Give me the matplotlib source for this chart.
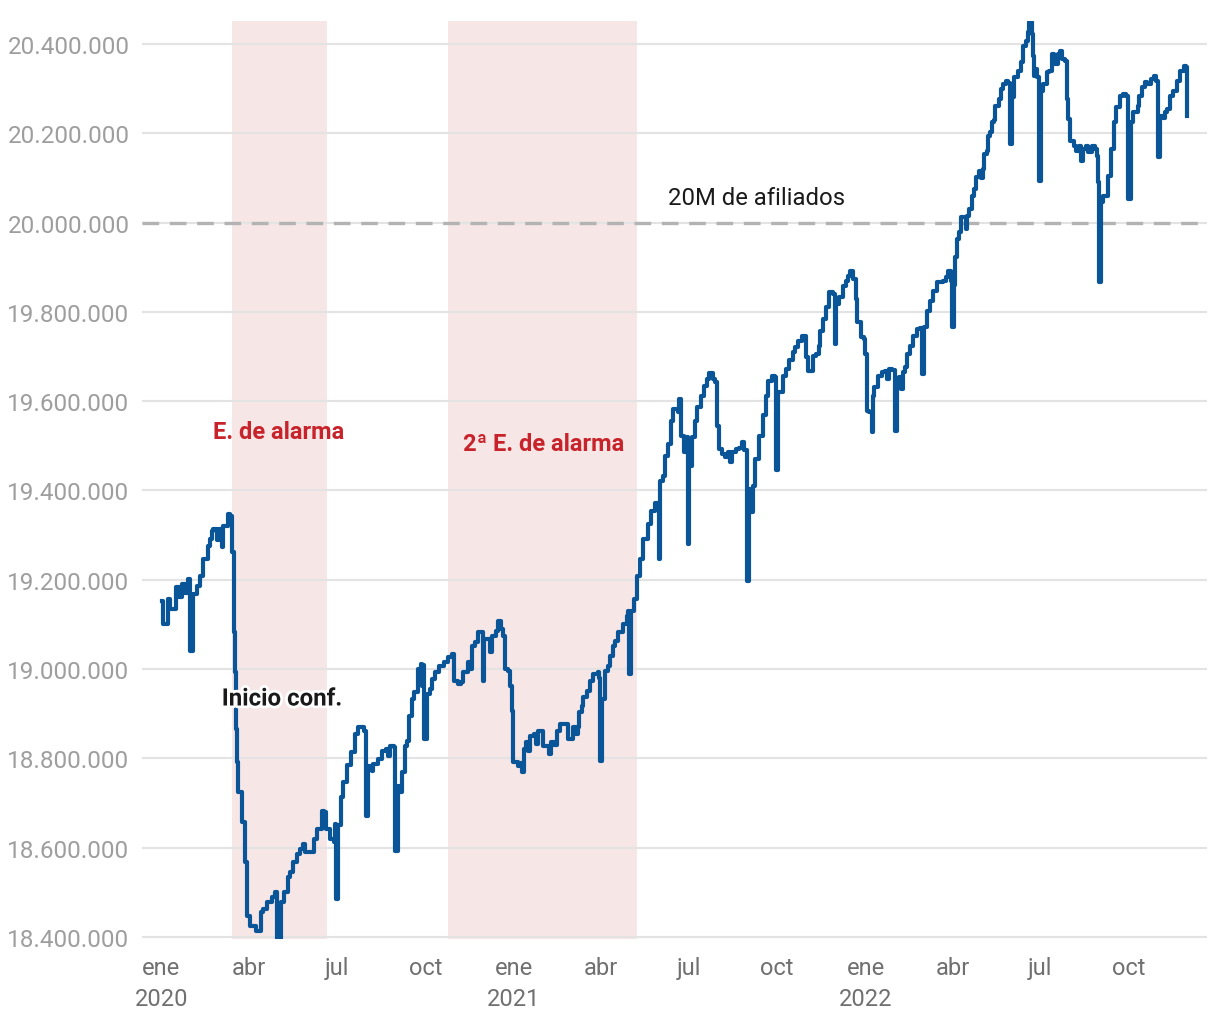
import matplotlib
matplotlib.use("Agg")
import matplotlib.pyplot as plt
import matplotlib.dates as mdates
import matplotlib.ticker as mticker
import matplotlib.patheffects as pe
import numpy as np
import pandas as pd

plt.rcParams['font.family'] = ['Roboto', 'DejaVu Sans']

# afiliados a la Seguridad Social (miles)
fechas = [
    "2020-01-02", "2020-01-03", "2020-01-08", "2020-01-10", "2020-01-16", "2020-01-19", "2020-01-23",
    "2020-01-26", "2020-01-29", "2020-01-31", "2020-02-03", "2020-02-07", "2020-02-10", "2020-02-13",
    "2020-02-18", "2020-02-21", "2020-02-23", "2020-02-24", "2020-02-28", "2020-03-01", "2020-03-04",
    "2020-03-05", "2020-03-10", "2020-03-12", "2020-03-14", "2020-03-16", "2020-03-18", "2020-03-19",
    "2020-03-20", "2020-03-21", "2020-03-25", "2020-03-28", "2020-03-30", "2020-04-02", "2020-04-08",
    "2020-04-11", "2020-04-13", "2020-04-16", "2020-04-20", "2020-04-25", "2020-04-28", "2020-04-30",
    "2020-05-04", "2020-05-07", "2020-05-11", "2020-05-14", "2020-05-17", "2020-05-21", "2020-05-24",
    "2020-05-27", "2020-05-29", "2020-06-04", "2020-06-07", "2020-06-11", "2020-06-14", "2020-06-16",
    "2020-06-18", "2020-06-20", "2020-06-24", "2020-06-28", "2020-06-29", "2020-06-30", "2020-07-02",
    "2020-07-05", "2020-07-08", "2020-07-12", "2020-07-16", "2020-07-20", "2020-07-23", "2020-07-29",
    "2020-07-31", "2020-08-03", "2020-08-07", "2020-08-08", "2020-08-13", "2020-08-17", "2020-08-21",
    "2020-08-23", "2020-08-25", "2020-08-29", "2020-08-31", "2020-09-03", "2020-09-05", "2020-09-07",
    "2020-09-10", "2020-09-12", "2020-09-14", "2020-09-17", "2020-09-19", "2020-09-23", "2020-09-26",
    "2020-09-28", "2020-09-29", "2020-09-30", "2020-10-03", "2020-10-06", "2020-10-08", "2020-10-11",
    "2020-10-15", "2020-10-20", "2020-10-25", "2020-10-29", "2020-10-31", "2020-11-04", "2020-11-07",
    "2020-11-09", "2020-11-14", "2020-11-16", "2020-11-18", "2020-11-21", "2020-11-25", "2020-11-27",
    "2020-11-30", "2020-12-01", "2020-12-05", "2020-12-07", "2020-12-09", "2020-12-13", "2020-12-15",
    "2020-12-19", "2020-12-21", "2020-12-23", "2020-12-26", "2020-12-28", "2020-12-30", "2020-12-31",
    "2021-01-05", "2021-01-06", "2021-01-09", "2021-01-11", "2021-01-13", "2021-01-16", "2021-01-18",
    "2021-01-22", "2021-01-24", "2021-01-26", "2021-01-29", "2021-01-31", "2021-02-03", "2021-02-06",
    "2021-02-08", "2021-02-11", "2021-02-15", "2021-02-18", "2021-02-23", "2021-02-26", "2021-03-01",
    "2021-03-03", "2021-03-06", "2021-03-08", "2021-03-09", "2021-03-13", "2021-03-14", "2021-03-18",
    "2021-03-21", "2021-03-24", "2021-03-29", "2021-03-30", "2021-03-31", "2021-04-02", "2021-04-05",
    "2021-04-09", "2021-04-11", "2021-04-14", "2021-04-16", "2021-04-19", "2021-04-24", "2021-04-28",
    "2021-04-29", "2021-04-30", "2021-05-02", "2021-05-05", "2021-05-09", "2021-05-12", "2021-05-15",
    "2021-05-20", "2021-05-23", "2021-05-27", "2021-05-31", "2021-06-01", "2021-06-05", "2021-06-07",
    "2021-06-10", "2021-06-13", "2021-06-15", "2021-06-20", "2021-06-21", "2021-06-23", "2021-06-26",
    "2021-06-28", "2021-06-30", "2021-07-02", "2021-07-05", "2021-07-08", "2021-07-10", "2021-07-14",
    "2021-07-17", "2021-07-20", "2021-07-22", "2021-07-26", "2021-07-29", "2021-07-31", "2021-08-02",
    "2021-08-05", "2021-08-08", "2021-08-11", "2021-08-13", "2021-08-15", "2021-08-19", "2021-08-22",
    "2021-08-26", "2021-08-28", "2021-08-31", "2021-09-02", "2021-09-04", "2021-09-06", "2021-09-08",
    "2021-09-12", "2021-09-16", "2021-09-19", "2021-09-22", "2021-09-26", "2021-09-29", "2021-09-30",
    "2021-10-02", "2021-10-07", "2021-10-10", "2021-10-13", "2021-10-17", "2021-10-20", "2021-10-23",
    "2021-10-27", "2021-10-31", "2021-11-02", "2021-11-05", "2021-11-07", "2021-11-10", "2021-11-13",
    "2021-11-14", "2021-11-18", "2021-11-21", "2021-11-24", "2021-11-28", "2021-11-30", "2021-12-01",
    "2021-12-04", "2021-12-08", "2021-12-11", "2021-12-13", "2021-12-16", "2021-12-19", "2021-12-22",
    "2021-12-23", "2021-12-27", "2021-12-30", "2021-12-31", "2022-01-02", "2022-01-04", "2022-01-07",
    "2022-01-08", "2022-01-10", "2022-01-14", "2022-01-18", "2022-01-21", "2022-01-23", "2022-01-25",
    "2022-01-28", "2022-01-31", "2022-02-02", "2022-02-04", "2022-02-06", "2022-02-09", "2022-02-11",
    "2022-02-13", "2022-02-16", "2022-02-19", "2022-02-23", "2022-02-26", "2022-02-28", "2022-03-02",
    "2022-03-06", "2022-03-09", "2022-03-12", "2022-03-16", "2022-03-22", "2022-03-25", "2022-03-27",
    "2022-03-30", "2022-03-31", "2022-04-02", "2022-04-04", "2022-04-06", "2022-04-08", "2022-04-10",
    "2022-04-13", "2022-04-15", "2022-04-16", "2022-04-18", "2022-04-21", "2022-04-23", "2022-04-25",
    "2022-04-28", "2022-04-30", "2022-05-03", "2022-05-04", "2022-05-07", "2022-05-08", "2022-05-10",
    "2022-05-12", "2022-05-14", "2022-05-15", "2022-05-19", "2022-05-21", "2022-05-23", "2022-05-26",
    "2022-05-29", "2022-05-31", "2022-06-02", "2022-06-04", "2022-06-08", "2022-06-11", "2022-06-13",
    "2022-06-16", "2022-06-18", "2022-06-19", "2022-06-22", "2022-06-23", "2022-06-24", "2022-06-26",
    "2022-06-28", "2022-06-30", "2022-07-02", "2022-07-04", "2022-07-08", "2022-07-10", "2022-07-13",
    "2022-07-15", "2022-07-16", "2022-07-19", "2022-07-21", "2022-07-24", "2022-07-27", "2022-07-29",
    "2022-07-30", "2022-08-01", "2022-08-05", "2022-08-07", "2022-08-10", "2022-08-12", "2022-08-14",
    "2022-08-17", "2022-08-20", "2022-08-24", "2022-08-27", "2022-08-29", "2022-08-30", "2022-08-31",
    "2022-09-02", "2022-09-04", "2022-09-09", "2022-09-12", "2022-09-15", "2022-09-18", "2022-09-22",
    "2022-09-25", "2022-09-28", "2022-09-30", "2022-10-03", "2022-10-05", "2022-10-10", "2022-10-11",
    "2022-10-15", "2022-10-18", "2022-10-20", "2022-10-24", "2022-10-27", "2022-10-29", "2022-10-31",
    "2022-11-02", "2022-11-05", "2022-11-07", "2022-11-10", "2022-11-13", "2022-11-16", "2022-11-20",
    "2022-11-23", "2022-11-27", "2022-11-29", "2022-11-30",
]
afiliados_miles = [
    19152, 19101, 19157, 19135, 19184, 19162, 19190,
    19170, 19202, 19040, 19168, 19186, 19208, 19247,
    19276, 19291, 19309, 19314, 19289, 19314, 19274,
    19320, 19347, 19343, 19262, 19083, 18994, 18866,
    18792, 18725, 18658, 18568, 18447, 18425, 18414,
    18414, 18456, 18463, 18478, 18490, 18501, 18395,
    18478, 18501, 18534, 18546, 18568, 18586, 18597,
    18608, 18590, 18590, 18620, 18642, 18642, 18682,
    18680, 18642, 18620, 18613, 18653, 18485, 18650,
    18714, 18747, 18785, 18814, 18855, 18870, 18861,
    18671, 18783, 18772, 18788, 18799, 18817, 18820,
    18806, 18828, 18826, 18593, 18738, 18725, 18770,
    18828, 18839, 18895, 18933, 18949, 19000, 19011,
    18962, 19010, 18844, 18944, 18955, 18978, 18994,
    19007, 19016, 19027, 19034, 18973, 18967, 18970,
    18994, 19016, 19000, 19052, 19061, 19083, 19083,
    18973, 19068, 19068, 19038, 19074, 19085, 19108,
    19090, 19074, 19000, 18996, 18962, 18906, 18792,
    18783, 18790, 18770, 18821, 18837, 18817, 18850,
    18855, 18832, 18861, 18861, 18828, 18828, 18810,
    18837, 18830, 18861, 18877, 18877, 18844, 18844,
    18870, 18855, 18870, 18904, 18918, 18938, 18951,
    18973, 18989, 18994, 18980, 18794, 18933, 18996,
    19007, 19029, 19052, 19063, 19083, 19101, 19119,
    19130, 18989, 19130, 19157, 19209, 19247, 19291,
    19325, 19354, 19372, 19247, 19421, 19432, 19477,
    19504, 19556, 19582, 19575, 19605, 19522, 19486,
    19520, 19280, 19455, 19520, 19556, 19587, 19612,
    19634, 19650, 19663, 19650, 19643, 19544, 19493,
    19482, 19475, 19486, 19464, 19486, 19493, 19495,
    19509, 19490, 19197, 19403, 19352, 19410, 19471,
    19522, 19570, 19612, 19645, 19656, 19654, 19445,
    19621, 19656, 19672, 19692, 19710, 19721, 19735,
    19746, 19699, 19668, 19668, 19701, 19705, 19724,
    19757, 19784, 19811, 19845, 19840, 19728, 19818,
    19833, 19858, 19869, 19880, 19892, 19874, 19829,
    19777, 19744, 19740, 19706, 19578, 19575, 19531,
    19612, 19632, 19656, 19665, 19668, 19650, 19673,
    19670, 19533, 19650, 19655, 19627, 19665, 19676,
    19706, 19724, 19746, 19762, 19764, 19661, 19766,
    19802, 19824, 19847, 19867, 19869, 19878, 19892,
    19870, 19766, 19860, 19923, 19963, 19979, 20012,
    20012, 19986, 20015, 20030, 20060, 20075, 20102,
    20116, 20100, 20120, 20154, 20160, 20194, 20203,
    20225, 20230, 20261, 20277, 20299, 20310, 20317,
    20312, 20176, 20281, 20326, 20340, 20360, 20396,
    20407, 20427, 20449, 20422, 20373, 20328, 20344,
    20326, 20093, 20295, 20310, 20337, 20340, 20378,
    20375, 20355, 20378, 20384, 20366, 20362, 20277,
    20232, 20183, 20172, 20160, 20172, 20138, 20165,
    20172, 20158, 20172, 20165, 20149, 20091, 19867,
    20046, 20060, 20104, 20165, 20225, 20259, 20284,
    20288, 20284, 20053, 20225, 20248, 20261, 20284,
    20304, 20315, 20310, 20322, 20328, 20318, 20147,
    20239, 20235, 20248, 20254, 20284, 20295, 20317,
    20340, 20351, 20349, 20239,
]

estados_alarma = [("2020-03-14", "2020-06-21"), ("2020-10-25", "2021-05-09")]
umbral = 20_000_000
meses_ticks = ["2020-01-01", "2020-04-01", "2020-07-01", "2020-10-01",
               "2021-01-01", "2021-04-01", "2021-07-01", "2021-10-01",
               "2022-01-01", "2022-04-01", "2022-07-01", "2022-10-01"]
etiquetas_ticks = ["ene\n2020", "abr", "jul", "oct", "ene\n2021", "abr", "jul", "oct",
                   "ene\n2022", "abr", "jul", "oct"]

x = pd.to_datetime(fechas)
y = np.array(afiliados_miles) * 1000

fig = plt.figure(figsize=(12.2, 10.2), dpi=100)
ax = fig.add_axes([142 / 1220, 1 - 940 / 1020, (1207 - 142) / 1220, (940 - 22) / 1020])
ax.set_axisbelow(True)

for ini, fin in estados_alarma:
    ax.axvspan(pd.Timestamp(ini), pd.Timestamp(fin), color="#f6e6e6", lw=0, zorder=0)

ax.axhline(umbral, color="#b3b3b3", lw=2.4, ls=(0, (5, 3.2)), zorder=2)
ax.step(x, y, where="post", color="#0a5597", lw=3.0, zorder=3)

ax.set_xlim(pd.Timestamp("2019-12-12"), pd.Timestamp("2022-12-21"))
ax.set_ylim(18_395_500, 20_451_500)

ax.set_yticks(np.arange(18_400_000, 20_400_001, 200_000))
ax.yaxis.set_major_formatter(mticker.FuncFormatter(lambda v, p: f"{int(v):,}".replace(",", ".")))
ax.set_xticks(pd.to_datetime(meses_ticks))
ax.set_xticklabels(etiquetas_ticks, linespacing=1.45)

ax.grid(axis="y", color="#e3e3e3", lw=1.5)
ax.grid(axis="x", visible=False)
ax.tick_params(axis="y", length=0, pad=9, labelsize=17.5, labelcolor="#9e9e9e")
ax.tick_params(axis="x", length=0, pad=12, labelsize=17, labelcolor="#707070")
for s in ax.spines.values():
    s.set_visible(False)

rojo = "#c8232a"
ax.text(pd.Timestamp("2020-05-02"), 19_533_000, "E. de alarma", color=rojo,
        fontsize=17, fontweight="bold", ha="center", va="center", zorder=4)
ax.text(pd.Timestamp("2021-02-01"), 19_506_000, "2ª E. de alarma", color=rojo,
        fontsize=17, fontweight="bold", ha="center", va="center", zorder=4)
ax.text(pd.Timestamp("2020-05-05"), 18_933_000, "Inicio conf.", color="#1a1a1a",
        fontsize=17.3, fontweight="bold", ha="center", va="center", zorder=5,
        path_effects=[pe.withStroke(linewidth=4, foreground="white")])
ax.text(pd.Timestamp("2021-09-10"), 20_057_000, "20M de afiliados", color="#1a1a1a",
        fontsize=17.2, ha="center", va="center", zorder=4)

fig.savefig("out.png", dpi=100, facecolor="white")
